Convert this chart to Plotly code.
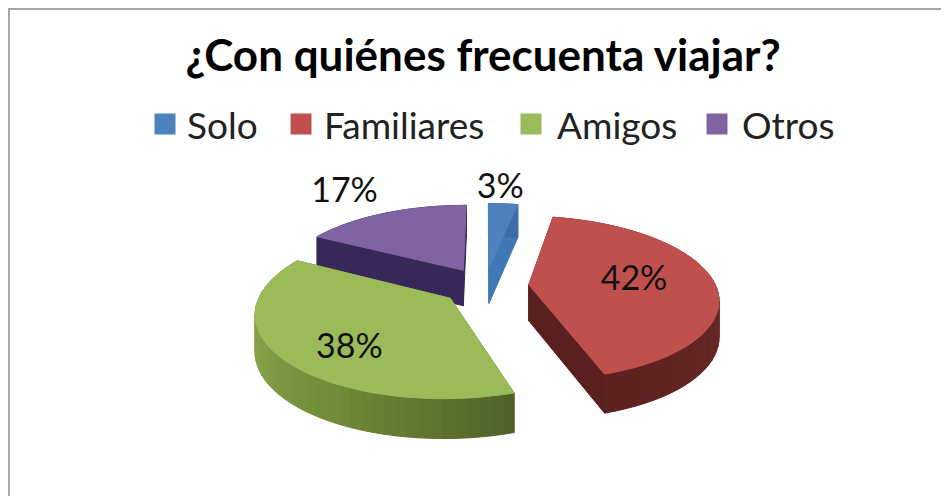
import math
import plotly.graph_objects as go

# --- data ---
categories = ["Solo", "Familiares", "Amigos", "Otros"]
percent = [3, 42, 38, 17]
title_text = "¿Con quiénes frecuenta viajar?"

# --- style ---
top_colors = ["#4f81bd", "#c0504d", "#9bbb59", "#8064a2"]
side_stops = [
    ["#3a6ea8", "#3a6ea8"],
    ["#5a2020", "#6b2a28", "#5c2220"],
    ["#4f6128", "#6f8a38", "#87a34a", "#7f9a42"],
    ["#38285a", "#38285a"],
]
radial_colors = ["#3f78b4", "#5a2020", "#55692c", "#38285a"]
label_radius = [1.27, 0.57, 0.6, 1.42]
label_du = [-0.04, 0.0, 0.0, -0.08]
label_dv = [0.0, 0.0, -0.17, 0.0]
legend_marker_x = [165, 301, 531, 717]
legend_text_x = [187, 324, 557, 742]
LEGEND_Y = 124
draw_order = [3, 0, 1, 2]

# --- fake 3-D projection of the exploded pie, in page pixels ---
CX, CY, RX, RY, PERSP, EXPLODE, DEPTH = 485, 286, 187, 80, 0.16, 0.235, 36


def project(u, v, z=0.0):
    s = 1 / (1 + PERSP * v)
    return CX + RX * u * s, CY - RY * v * s + DEPTH * z * s ** 0.5


def hex2rgb(h):
    return [int(h[i:i + 2], 16) for i in (1, 3, 5)]


def blend(stops, f):
    p = f * (len(stops) - 1)
    i = min(int(p), len(stops) - 2)
    t = p - i
    a, b = hex2rgb(stops[i]), hex2rgb(stops[i + 1])
    return "rgb(%d,%d,%d)" % tuple(round(a[k] + (b[k] - a[k]) * t) for k in range(3))


def poly_trace(pts, color):
    xs = [p[0] for p in pts] + [pts[0][0]]
    ys = [p[1] for p in pts] + [pts[0][1]]
    return go.Scatter(x=xs, y=ys, mode="lines", fill="toself", fillcolor=color,
                      line=dict(color=color, width=1), hoverinfo="skip", showlegend=False)


fig = go.Figure()
total = sum(percent)
starts, acc = [], 0
for p in percent:
    starts.append(acc)
    acc += p

label_x, label_y = [], []
for i in range(len(percent)):
    a0 = starts[i] / total * 2 * math.pi
    a1 = (starts[i] + percent[i]) / total * 2 * math.pi
    mid = (a0 + a1) / 2
    ou, ov = EXPLODE * math.sin(mid), EXPLODE * math.cos(mid)
    lx, ly = project(ou + label_radius[i] * math.sin(mid) + label_du[i],
                     ov + label_radius[i] * math.cos(mid) + label_dv[i])
    label_x.append(lx)
    label_y.append(ly)

for i in draw_order:
    a0 = starts[i] / total * 2 * math.pi
    a1 = (starts[i] + percent[i]) / total * 2 * math.pi
    mid = (a0 + a1) / 2
    ou, ov = EXPLODE * math.sin(mid), EXPLODE * math.cos(mid)
    n = max(6, int(percent[i] * 1.2))
    rim = [(ou + math.sin(a0 + (a1 - a0) * k / n), ov + math.cos(a0 + (a1 - a0) * k / n))
           for k in range(n + 1)]
    # radial walls
    for p in (rim[0], rim[-1]):
        fig.add_trace(poly_trace([project(ou, ov), project(*p), project(*p, 1), project(ou, ov, 1)],
                                 radial_colors[i]))
    # outer wall, shaded along the rim
    for k in range(n):
        f = (k + 0.5) / n
        fig.add_trace(poly_trace([project(*rim[k]), project(*rim[k + 1]),
                                  project(*rim[k + 1], 1), project(*rim[k], 1)],
                                 blend(side_stops[i], f)))
    fig.add_trace(poly_trace([project(ou, ov)] + [project(*p) for p in rim], top_colors[i]))

# legend swatches and names
for i, name in enumerate(categories):
    fig.add_trace(go.Scatter(x=[legend_marker_x[i]], y=[LEGEND_Y], mode="markers", name=name,
                             marker=dict(symbol="square", size=21, color=top_colors[i]),
                             hoverinfo="name", showlegend=False))

annotations = [
    dict(x=legend_text_x[i], y=LEGEND_Y, xref="x", yref="y", text=name, showarrow=False,
         xanchor="left", yanchor="middle", xshift=-2,
         font=dict(family="Lato", size=37, color="#222222"))
    for i, name in enumerate(categories)
]

fig.add_trace(go.Scatter(x=label_x, y=label_y, mode="text",
                         text=[f"{p}%" for p in percent],
                         textposition="middle center",
                         textfont=dict(family="Lato", size=34, color="#111111"),
                         hoverinfo="skip", showlegend=False))

# the browser page keeps an 8 px body margin, so the axes start at page pixel 8
fig.update_layout(
    width=949, height=496, autosize=False,
    margin=dict(l=0, r=0, t=0, b=0),
    paper_bgcolor="white", plot_bgcolor="white",
    showlegend=False,
    xaxis=dict(range=[8, 957], visible=False, fixedrange=True),
    yaxis=dict(range=[504, 8], visible=False, fixedrange=True),
    title=dict(text=title_text, x=0.5006, xanchor="center", y=0.905, yanchor="middle",
               font=dict(family="Lato", size=44, color="black", weight="bold")),
    annotations=annotations,
    shapes=[
        dict(type="line", xref="paper", yref="paper", x0=0.001, x1=0.001, y0=0, y1=1,
             line=dict(color="#a6a6a6", width=2)),
        dict(type="line", xref="paper", yref="paper", x0=0, x1=1, y0=0.998, y1=0.998,
             line=dict(color="#a6a6a6", width=2)),
    ],
)
fig.write_html("out.html")
